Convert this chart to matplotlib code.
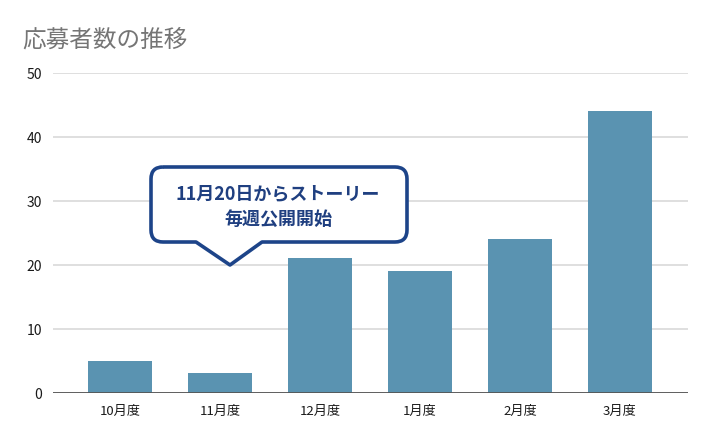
import matplotlib
matplotlib.use("Agg")
import matplotlib.pyplot as plt
from matplotlib.path import Path
from matplotlib.patches import PathPatch

plt.rcParams['font.family'] = ['Noto Sans CJK JP', 'DejaVu Sans']

categories = ["10月度", "11月度", "12月度", "1月度", "2月度", "3月度"]
values = [5, 3, 21, 19, 24, 44]
yticks = [0, 10, 20, 30, 40, 50]
title = "応募者数の推移"
callout_lines = ["11月20日からストーリー", "毎週公開開始"]

W, H = 710, 439
fig = plt.figure(figsize=(W / 100, H / 100), dpi=100)
fig.patch.set_facecolor("white")

ax = fig.add_axes([53 / W, 1 - 393.5 / H, (688 - 53) / W, (393.5 - 74) / H])
x = list(range(len(categories)))
ax.bar(x, values, width=0.64, color="#5a93b1", zorder=3)
ax.set_xlim(-0.67, 5.68)
ax.set_ylim(0, 50)
ax.set_yticks(yticks)
ax.set_yticklabels([str(t) for t in yticks])
ax.set_xticks(x)
ax.set_xticklabels(categories)
ax.grid(axis="y", color="#d9d9d9", linewidth=1.2, zorder=0)
ax.axhline(0, color="#555555", linewidth=1.3, zorder=4)
for s in ax.spines.values():
    s.set_visible(False)
ax.tick_params(axis="both", length=0, colors="#1a1a1a")
ax.tick_params(axis="y", pad=8, labelsize=10)
ax.tick_params(axis="x", pad=8, labelsize=9.5)

fig.text(22 / W, 1 - 40 / H, title, fontsize=17, color="#757575",
         ha="left", va="center")

# Callout box (figure pixel coordinates -> figure fraction)
L, R, T, B, r = 151, 407, 168, 243, 12
bl, br, tx, ty = 196, 262, 230, 266
pts = [
    (L + r, T), (R - r, T), (R, T), (R, T + r), (R, B - r), (R, B), (R - r, B),
    (br, B), (tx, ty), (bl, B), (L + r, B), (L, B), (L, B - r), (L, T + r), (L, T), (L + r, T),
]
codes = [
    Path.MOVETO, Path.LINETO, Path.CURVE3, Path.CURVE3, Path.LINETO, Path.CURVE3, Path.CURVE3,
    Path.LINETO, Path.LINETO, Path.LINETO, Path.LINETO, Path.CURVE3, Path.CURVE3, Path.LINETO,
    Path.CURVE3, Path.CURVE3,
]
verts = [(px / W, 1 - py / H) for px, py in pts]
patch = PathPatch(Path(verts, codes), facecolor="white", edgecolor="#1d4489",
                  linewidth=2.6, transform=fig.transFigure, zorder=10,
                  joinstyle="round")
fig.add_artist(patch)
fig.text(278 / W, 1 - 194 / H, callout_lines[0], fontsize=13, fontweight="bold",
         color="#1f3f80", ha="center", va="center", zorder=11)
fig.text(278 / W, 1 - 219 / H, callout_lines[1], fontsize=13, fontweight="bold",
         color="#1f3f80", ha="center", va="center", zorder=11)

fig.savefig("out.png", dpi=100, facecolor="white")
